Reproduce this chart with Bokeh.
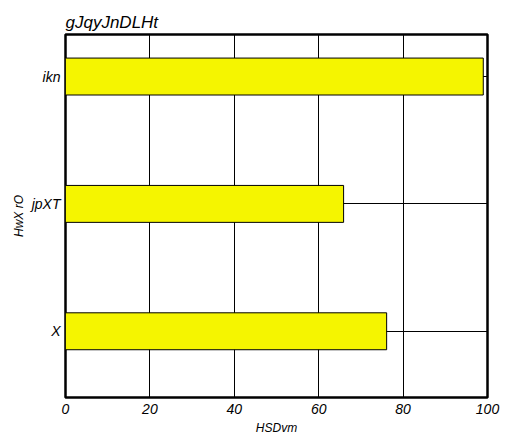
from bokeh.plotting import figure
from bokeh.models import FixedTicker, Range1d
from bokeh.embed import file_html
from bokeh.resources import INLINE

categories = ["X", "jpXT", "ikn"]
values = [76.1, 65.9, 99.0]
x_ticks = [0, 20, 40, 60, 80, 100]
title_text = "gJqyJnDLHt"
x_label = "HSDvm"
y_label = "HwX rO"

positions = list(range(len(categories)))

p = figure(width=512, height=448, output_backend="svg", toolbar_location=None,
           x_range=Range1d(0, 100), y_range=Range1d(-0.52, 2.33),
           title=title_text,
           min_border_left=65, min_border_right=25, min_border_top=34, min_border_bottom=51)

p.hbar(y=positions, left=0, right=values, height=0.29,
       fill_color="#f5f500", line_color="black", line_width=1)

font = "Liberation Sans"
p.title.text_font = font
p.title.text_font_style = "italic"
p.title.text_font_size = "17px"
p.title.text_color = "black"
p.title.offset = 0
p.title.standoff = 5

p.xaxis.ticker = FixedTicker(ticks=x_ticks)
p.yaxis.ticker = FixedTicker(ticks=positions)
p.yaxis.major_label_overrides = {i: c for i, c in zip(positions, categories)}

for ax in (p.xaxis[0], p.yaxis[0]):
    ax.axis_line_color = None
    ax.major_tick_line_color = None
    ax.minor_tick_line_color = None
    ax.major_tick_out = 0
    ax.major_tick_in = 0
    ax.minor_tick_out = 0
    ax.major_label_text_font = font
    ax.major_label_text_font_style = "italic"
    ax.major_label_text_font_size = "14px"
    ax.major_label_text_color = "black"
    ax.axis_label_text_font = font
    ax.axis_label_text_font_style = "italic"
    ax.axis_label_text_font_size = "12px"
    ax.axis_label_text_color = "black"

p.xaxis.axis_label = x_label
p.yaxis.axis_label = y_label
p.xaxis.major_label_standoff = 6
p.yaxis.major_label_standoff = 5
p.xaxis.axis_label_standoff = 4
p.yaxis.axis_label_standoff = 3

p.xgrid.ticker = FixedTicker(ticks=x_ticks)
p.ygrid.ticker = FixedTicker(ticks=positions)
p.grid.grid_line_color = "black"
p.grid.grid_line_width = 1
p.grid.grid_line_alpha = 1

p.outline_line_color = "black"
p.outline_line_width = 2.5
p.background_fill_color = "white"
p.border_fill_color = "white"

open("out.html", "w").write(file_html(p, INLINE))
